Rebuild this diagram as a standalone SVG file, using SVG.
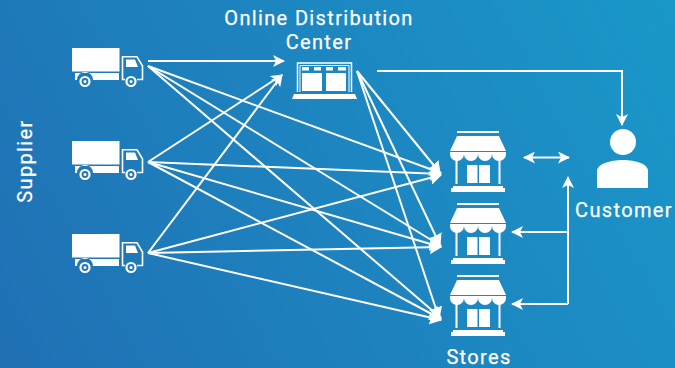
<svg xmlns="http://www.w3.org/2000/svg" width="675" height="368" viewBox="0 0 675 368">
<style>
.t{font-family:"Roboto","Liberation Sans",sans-serif;font-size:20px;font-weight:400;fill:#fff;stroke:#fff;stroke-width:.25px;text-anchor:middle;letter-spacing:1.35px}
.c{fill:none;stroke:#fff;stroke-width:2}
.f{fill:#fff}
</style>
<defs>
<linearGradient id="bg" gradientUnits="userSpaceOnUse" x1="0" y1="368" x2="675" y2="0">
<stop offset="0" stop-color="#2070b4"/><stop offset="1" stop-color="#1a98ca"/>
</linearGradient>
<marker id="a" viewBox="0 0 12 12" refX="11" refY="6" markerWidth="12" markerHeight="12" markerUnits="userSpaceOnUse" orient="auto-start-reverse"><path d="M0 0L12 6L0 12L3 6Z" fill="#fff"/></marker>
<marker id="b" viewBox="0 0 12 14" refX="11" refY="7" markerWidth="12" markerHeight="14" markerUnits="userSpaceOnUse" orient="auto"><path d="M0 0L12 7L0 14L1 7Z" fill="#fff"/></marker>
<symbol id="truck" overflow="visible">
<rect class="f" x="0" y="0" width="47.500" height="23.500"/>
<path class="f" d="M3 25H47V32H21A8 8 0 0 0 5 32H3Z"/>
<circle cx="13" cy="33.500" r="4.500" fill="none" stroke="#fff" stroke-width="2.200"/><circle cx="13" cy="33.500" r="1.500" class="f"/>
<path d="M53 31.500H50.500V8.800H65L70.500 18V31.500H65" fill="none" stroke="#fff" stroke-width="1.600"/>
<path class="f" d="M54 11.500H63L66 19H54Z"/>
<circle cx="59" cy="33.500" r="4.500" fill="none" stroke="#fff" stroke-width="2.200"/><circle cx="59" cy="33.500" r="1.500" class="f"/>
</symbol>
<symbol id="store" overflow="visible">
<rect class="f" x="7" y="0" width="42" height="2"/>
<path class="f" d="M7 5H49L56 20H0Z"/>
<path class="f" d="M0 21H56V23A7 7 0 0 1 42 23A7 7 0 0 1 28 23A7 7 0 0 1 14 23A7 7 0 0 1 0 23Z"/>
<rect class="f" x="5.500" y="28" width="2" height="25"/><rect class="f" x="48.500" y="28" width="2" height="25"/>
<rect class="f" x="17" y="34" width="10.500" height="18"/><rect class="f" x="29" y="34" width="11" height="18"/>
<path class="f" d="M3 55H53V57H55V61H1V57H3Z"/>
</symbol>
</defs>
<rect width="675" height="368" fill="url(#bg)"/>
<g id="connectors">
<path class="c" marker-end="url(#a)" d="M148 61H284"/>
<path class="c" marker-end="url(#a)" d="M148 162L282 75"/>
<path class="c" marker-end="url(#a)" d="M148 253L282 75"/>
<path class="c" marker-end="url(#b)" d="M148 66L441 173"/>
<path class="c" marker-end="url(#b)" d="M148 66L441 246"/>
<path class="c" marker-end="url(#b)" d="M148 66L441 318"/>
<path class="c" marker-end="url(#b)" d="M148 162L441 174"/>
<path class="c" marker-end="url(#b)" d="M148 162L441 247"/>
<path class="c" marker-end="url(#b)" d="M148 162L441 319"/>
<path class="c" marker-end="url(#b)" d="M148 253L441 175"/>
<path class="c" marker-end="url(#b)" d="M148 253L441 247"/>
<path class="c" marker-end="url(#b)" d="M148 253L441 320"/>
<path class="c" marker-end="url(#b)" d="M357 71L440 173"/>
<path class="c" marker-end="url(#b)" d="M357 71L440 245"/>
<path class="c" marker-end="url(#b)" d="M357 71L439 318"/>
<path class="c" marker-end="url(#a)" d="M377 71H622V125"/>
<path class="c" marker-start="url(#a)" marker-end="url(#a)" d="M524 157.500H569"/>
<path class="c" marker-end="url(#a)" d="M568 304V177"/>
<path class="c" marker-end="url(#a)" d="M568 232H512"/>
<path class="c" marker-end="url(#a)" d="M568 304H512"/>
</g>
<g id="supplier-label"><text class="t" transform="translate(32 161) rotate(-90)">Supplier</text></g>
<g id="truck-1"><use href="#truck" x="72" y="48"/></g>
<g id="truck-2"><use href="#truck" x="72" y="141"/></g>
<g id="truck-3"><use href="#truck" x="72" y="234"/></g>
<g id="distribution-center">
<text class="t" x="319" y="25">Online Distribution</text>
<text class="t" x="319" y="49">Center</text>
<path d="M297.500 92V63H351.500V92" fill="none" stroke="#fff" stroke-width="1.500"/>
<path d="M300 92V65.500H349V92" fill="none" stroke="#fff" stroke-width="1"/>
<g class="f"><rect x="302" y="67" width="7" height="3.500"/><rect x="314" y="67" width="7" height="3.500"/><rect x="326" y="67" width="7" height="3.500"/><rect x="338" y="67" width="8" height="3.500"/></g>
<rect class="f" x="302" y="73" width="20" height="18"/><rect class="f" x="326" y="73" width="20" height="18"/>
<path class="f" d="M294 94H355L357 99H292Z"/>
</g>
<g id="store-1"><use href="#store" x="450" y="131"/></g>
<g id="store-2"><use href="#store" x="450" y="203"/></g>
<g id="store-3"><use href="#store" x="450" y="275"/></g>
<g id="stores-label"><text class="t" x="479" y="364">Stores</text></g>
<g id="customer">
<circle class="f" cx="623" cy="142" r="13"/>
<path class="f" d="M597 188V171C597 164 610 160 623 160C636 160 648 164 648 171V188Z"/>
<text class="t" x="624" y="217">Customer</text>
</g>
</svg>
